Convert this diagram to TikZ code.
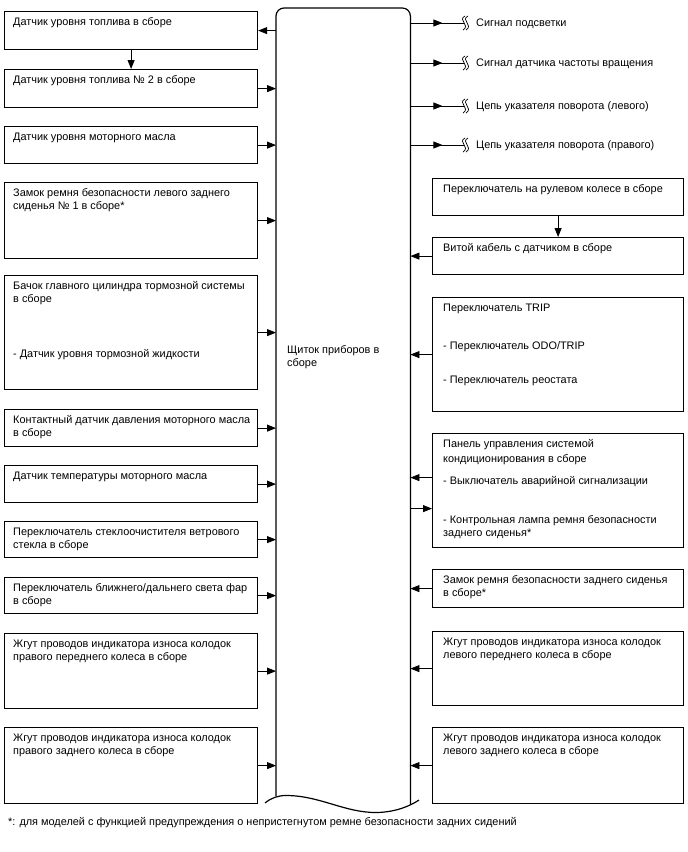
\documentclass[tikz,border=0pt]{standalone}
\usepackage{fontspec}
\setmainfont{Liberation Sans}
\usetikzlibrary{arrows.meta,decorations.markings}
\newcommand{\fs}{\fontsize{10.9}{13}\selectfont}
\tikzset{
  box/.style={draw, line width=1.2pt, inner sep=0pt, anchor=north west},
  txt/.style={inner sep=0pt, anchor=north west, align=left, font=\fs},
  conn/.style={line width=0.8pt, -{Triangle[length=9pt,width=7pt]}},
  connmid/.style={line width=0.8pt, postaction={decorate},
    decoration={markings, mark=at position 32pt with {\arrow{Triangle[length=9pt,width=7pt]}}}},
  frame/.style={line width=1.2pt},
  squig/.style={line width=0.7pt},
}
\newcommand{\lbox}[4]{%
  \node[box, minimum width=253pt, minimum height=#3pt] (#1) at (4,#2) {};
  \node[txt] (#1t) at ([shift={(9pt,-6.5pt)}]#1.north west) {#4};}
\newcommand{\rbox}[4]{%
  \node[box, minimum width=251pt, minimum height=#3pt] (#1) at (432,#2) {};
  \node[txt] (#1t) at ([shift={(11pt,-6.5pt)}]#1.north west) {#4};}
\newcommand{\sig}[3]{%
  \coordinate (#1) at (464,#2);
  \draw[connmid] (ipc.east |- #1) -- (#1);
  \draw[squig, shift={(#1)}] (1,-7) .. controls (-7,-3) and (7,2) .. (-1,7);
  \draw[squig, shift={(#1)}, xshift=3pt] (1,-7) .. controls (-7,-3) and (7,2) .. (-1,7);
  \node[inner sep=0pt, anchor=base west, font=\fs] (#1t) at (476,{#2+3.5}) {#3};}
\begin{document}
\begin{tikzpicture}[x=1pt,y=-1pt]
\useasboundingbox (0,0) rectangle (688,852);
% central unit
\node[inner sep=0pt, minimum width=134pt, minimum height=795pt, anchor=north west] (ipc) at (276,8) {};
\node[txt] (ipct) at (287,345) {Щиток приборов в\\сборе};
\draw[frame, rounded corners=8pt] ([yshift=7pt]ipc.south west) -- (ipc.north west) -- (ipc.north east) -- ([yshift=-1pt]ipc.south east);
\draw[frame] (265,803) .. controls (271,798) and (278,795.5) .. (286,795.5)
  .. controls (320,795.5) and (345,813) .. (377,812.5)
  .. controls (396,812) and (410,806) .. (419,800);
% left boxes
\lbox{l1}{11}{38}{Датчик уровня топлива в сборе}
\lbox{l2}{69}{38}{Датчик уровня топлива № 2 в сборе}
\lbox{l3}{126}{37}{Датчик уровня моторного масла}
\lbox{l4}{182}{76}{Замок ремня безопасности левого заднего\\сиденья № 1 в сборе*}
\lbox{l5}{275}{114}{Бачок главного цилиндра тормозной системы\\в сборе\\[42pt]- Датчик уровня тормозной жидкости}
\lbox{l6}{409}{37}{Контактный датчик давления моторного масла\\в сборе}
\lbox{l7}{465}{37}{Датчик температуры моторного масла}
\lbox{l8}{521}{36}{Переключатель стеклоочистителя ветрового\\стекла в сборе}
\lbox{l9}{577}{36}{Переключатель ближнего/дальнего света фар\\в сборе}
\lbox{l10}{633}{75}{Жгут проводов индикатора износа колодок\\правого переднего колеса в сборе}
\lbox{l11}{727}{76}{Жгут проводов индикатора износа колодок\\правого заднего колеса в сборе}
% right boxes
\rbox{r1}{178}{37}{Переключатель на рулевом колесе в сборе}
\rbox{r2}{237}{37}{Витой кабель с датчиком в сборе}
\rbox{r3}{297}{114}{Переключатель TRIP\\[25pt]- Переключатель ODO/TRIP\\[21pt]- Переключатель реостата}
\rbox{r4}{433}{114}{Панель управления системой\\[2pt]кондиционирования в сборе\\[9pt]- Выключатель аварийной сигнализации\\[26pt]- Контрольная лампа ремня безопасности\\заднего сиденья*}
\rbox{r5}{569}{38}{Замок ремня безопасности заднего сиденья\\в сборе*}
\rbox{r6}{631}{74}{Жгут проводов индикатора износа колодок\\левого переднего колеса в сборе}
\rbox{r7}{727}{76}{Жгут проводов индикатора износа колодок\\левого заднего колеса в сборе}
% left connectors
\draw[conn] (l1.east -| ipc.west) -- (l1.east);
\draw[conn] (l1.south) -- (l2.north);
\foreach \b in {l2,l3,l4,l5,l6,l7,l8,l9,l10,l11}
  \draw[conn] (\b.east) -- (\b.east -| ipc.west);
% right connectors
\draw[conn] (r1.south) -- (r2.north);
\foreach \b in {r2,r3,r5,r6,r7}
  \draw[conn] (\b.west) -- (\b.west -| ipc.east);
\coordinate (r4a) at ([yshift=13pt]r4.west);
\coordinate (r4b) at ([yshift=-18pt]r4.west);
\draw[conn] (r4a) -- (r4a -| ipc.east);
\draw[conn] (r4b -| ipc.east) -- (r4b);
% signals
\sig{s1}{23}{Сигнал подсветки}
\sig{s2}{63}{Сигнал датчика частоты вращения}
\sig{s3}{106}{Цепь указателя поворота (левого)}
\sig{s4}{145}{Цепь указателя поворота (правого)}
% footnote
\node[inner sep=0pt, anchor=base west, font=\fs] (note) at (8,825) {*: для моделей с функцией предупреждения о непристегнутом ремне безопасности задних сидений};
\end{tikzpicture}
\end{document}
